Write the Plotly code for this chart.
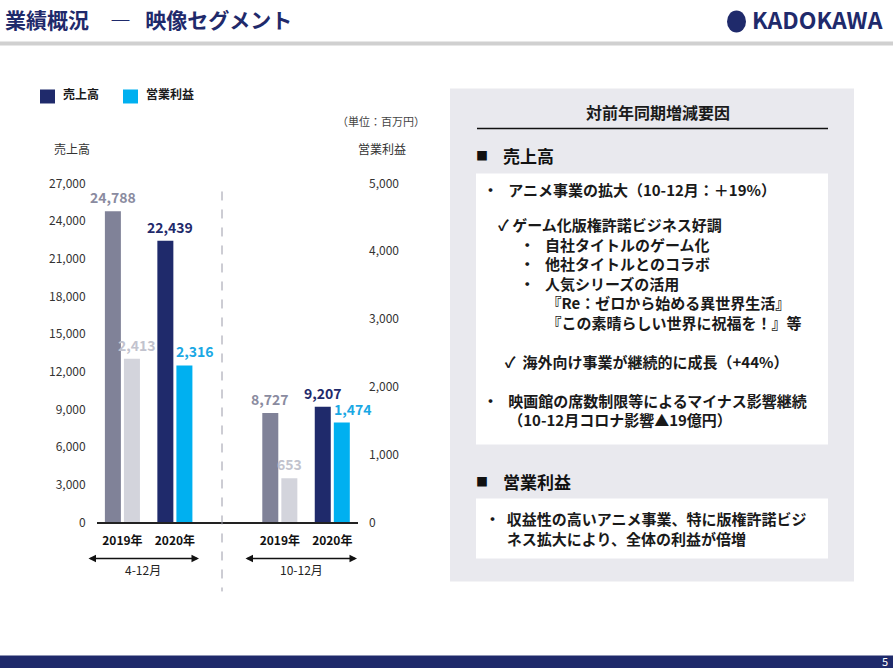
import plotly.graph_objects as go

# ---------------- data ----------------
periods = ["4-12月", "10-12月"]
years = ["2019年", "2020年"]
revenue = [24788, 22439, 8727, 9207]       # 売上高 (百万円)
op_profit = [2413, 2316, 653, 1474]        # 営業利益 (百万円)
rev_ticks = [0, 3000, 6000, 9000, 12000, 15000, 18000, 21000, 24000, 27000]
op_ticks = [0, 1000, 2000, 3000, 4000, 5000]

# ---------------- style ----------------
W = 893
H_FIG = 677
V_OFF = 8.5       # vertical offset of the page in the photograph
V_SCALE = 0.975   # vertical scale of the page in the photograph
T_ADJ = -2.5      # text boxes sit slightly low
FONT = "Noto Sans CJK JP"
NAVY = "#1f2a6b"
GREY = "#808298"
LGREY = "#d3d4dc"
CYAN = "#00b0f0"
TXT = "#1a1a1a"
BAR_W = 0.305
REV_OFF = -0.334
OP_OFF = 0.029
rev_shift = [0, 5, 0, 0]
op_shift = [5, 11, 0, 11]
NB = "\u00a0"
FS = "\u3000"


def px(x):
    return x / W


def py(y):
    return 1 - ((y - V_OFF) / V_SCALE) / H_FIG


xpos = [g * 3 + i for g in range(len(periods)) for i in range(len(years))]
ticktext = ["<b>%s</b>" % years[i] for g in range(len(periods)) for i in range(len(years))]
yr_idx = [i for g in range(len(periods)) for i in range(len(years))]

rev_colors = [GREY if i == 0 else NAVY for i in yr_idx]
op_colors = [LGREY if i == 0 else CYAN for i in yr_idx]
rev_lbl = ["#8a8ba0" if i == 0 else NAVY for i in yr_idx]
op_lbl = ["#c2c3ce" if i == 0 else "#1aa8e4" for i in yr_idx]

fig = go.Figure()
fig.add_trace(go.Bar(
    x=xpos, y=revenue, yaxis="y", width=BAR_W, offset=REV_OFF,
    marker=dict(color=rev_colors, line_width=0),
    hoverinfo="skip", showlegend=False))
fig.add_trace(go.Bar(
    x=xpos, y=op_profit, yaxis="y2", width=BAR_W, offset=OP_OFF,
    marker=dict(color=op_colors, line_width=0),
    hoverinfo="skip", showlegend=False))

shapes = []
annotations = []

# value labels (anchored to the bars through the axes)
for k in range(len(xpos)):
    annotations.append(dict(xref="x", yref="y", x=xpos[k] + REV_OFF + BAR_W / 2,
                            y=revenue[k], text="<b>{:,}</b>".format(revenue[k]),
                            showarrow=False, xanchor="center", yanchor="bottom",
                            xshift=rev_shift[k], yshift=2,
                            font=dict(family=FONT, size=14, color=rev_lbl[k])))
    annotations.append(dict(xref="x", yref="y2", x=xpos[k] + OP_OFF + BAR_W / 2,
                            y=op_profit[k], text="<b>{:,}</b>".format(op_profit[k]),
                            showarrow=False, xanchor="center", yanchor="bottom",
                            xshift=op_shift[k], yshift=2,
                            font=dict(family=FONT, size=14, color=op_lbl[k])))


def rect(x0, y0, x1, y1, color, layer="below"):
    shapes.append(dict(type="rect", xref="paper", yref="paper",
                       x0=px(x0), x1=px(x1), y0=py(y1), y1=py(y0),
                       fillcolor=color, line_width=0, layer=layer))


def line(x0, y0, x1, y1, color, width=1, dash="solid"):
    shapes.append(dict(type="line", xref="paper", yref="paper",
                       x0=px(x0), x1=px(x1), y0=py(y0), y1=py(y1),
                       line=dict(color=color, width=width, dash=dash)))


def text(x, y, s, size=15, color=TXT, bold=True, anchor="left"):
    annotations.append(dict(xref="paper", yref="paper", x=px(x), y=py(y + T_ADJ),
                            text=("<b>%s</b>" % s) if bold else s,
                            showarrow=False, xanchor=anchor, yanchor="middle",
                            align="left",
                            font=dict(family=FONT, size=size, color=color)))


# header
text(3, 20, "業績概況" + FS + "―" + NB * 3 + "映像セグメント", size=21, color=NAVY)
rect(0, 40, W, 44, "#d0d0d0")
shapes.append(dict(type="circle", xref="paper", yref="paper",
                   x0=px(727), x1=px(746), y0=py(31), y1=py(9),
                   fillcolor=NAVY, line_width=0))
text(750, 20, "KADOKAWA", size=23, color=NAVY)

# footer
rect(0, 654, W, 690, NAVY)
text(880, 662, "5", size=11, color="white", bold=False)

# legend
rect(40, 88, 55, 102, NAVY)
text(61, 95, "売上高", size=12)
rect(123, 88, 138, 102, CYAN)
text(144, 95, "営業利益", size=12)

# units / axis titles
text(427, 122, "（単位：百万円）", size=11, color="#444444", bold=False, anchor="right")
text(52, 150, "売上高", size=12, color="#333333", bold=False)
text(356, 150, "営業利益", size=12, color="#333333", bold=False)

# divider
line(222, 190, 222, 590, "#9a9aa8", 1, "dash")

# period arrows and labels
for (xa, xb, lab_x, lab) in [(87, 199, 143, periods[0]), (244, 357, 301, periods[1])]:
    annotations.append(dict(xref="paper", yref="paper", x=px(xb), y=py(557),
                            ax=-(xb - xa), ay=0, axref="pixel", ayref="pixel",
                            text="", showarrow=True, arrowside="end+start",
                            arrowhead=2, arrowsize=1, arrowwidth=1.5, arrowcolor="#111111"))
    text(lab_x, 571, lab, size=12, color="#222222", bold=False, anchor="center")

# right panel
rect(450, 87, 854, 580, "#e9e9ee")
rect(476, 172, 828, 443, "white")
rect(476, 497, 828, 557, "white")
text(658, 113, "対前年同期増減要因", size=16, anchor="center")
line(477, 127, 828, 127, "#111111", 1.5)

text(482, 157, "■", size=12, color="#111111", anchor="center")
text(501, 157, "売上高", size=17, color="#111111")

text(480.5, 191, "・" + NB * 3 + "アニメ事業の拡大（10-12月：＋19%）", size=15)

block = "<br>".join([
    FS + "✓" + NB + "ゲーム化版権許諾ビジネス好調",
    FS * 2 + NB * 2 + "・" + NB * 3 + "自社タイトルのゲーム化",
    FS * 2 + NB * 2 + "・" + NB * 3 + "他社タイトルとのコラボ",
    FS * 2 + NB * 2 + "・" + NB * 3 + "人気シリーズの活用",
    FS * 4 + NB + "『Re：ゼロから始める異世界生活』",
    FS * 4 + NB + "『この素晴らしい世界に祝福を！』等",
    NB,
    FS + NB * 2 + "✓" + NB * 2 + "海外向け事業が継続的に成長（+44%）",
    NB,
    "・" + NB * 3 + "映画館の席数制限等によるマイナス影響継続",
    FS + NB * 3 + "（10-12月コロナ影響▲19億円）",
])
text(481, 323, block, size=15)

text(482, 483, "■", size=12, color="#111111", anchor="center")
text(501, 483, "営業利益", size=17, color="#111111")
text(482.5, 529.5, "・" + NB * 2 + "収益性の高いアニメ事業、特に版権許諾ビジ<br>"
     + FS + NB * 2 + "ネス拡大により、全体の利益が倍増", size=15)

tickfont = dict(family=FONT, size=12, color="#333333")
fig.update_layout(
    width=W, height=H_FIG, autosize=False,
    margin=dict(l=0, r=0, t=0, b=0),
    paper_bgcolor="white", plot_bgcolor="rgba(0,0,0,0)",
    barmode="overlay", showlegend=False,
    font=dict(family=FONT),
    xaxis=dict(domain=[px(96.7), px(358)], range=[-0.49, 4.49],
               tickvals=xpos, ticktext=ticktext, ticks="",
               tickfont=dict(family=FONT, size=12, color="#111111"),
               showline=True, linecolor="#222222", linewidth=1.5,
               showgrid=False, zeroline=False, ticklabelstandoff=6, fixedrange=True),
    yaxis=dict(domain=[py(521), py(182)], range=[0, 27000], tickvals=rev_ticks,
               tickformat=",", showgrid=False, zeroline=False, ticks="",
               tickfont=tickfont, ticklabelstandoff=10, fixedrange=True),
    yaxis2=dict(overlaying="y", side="right", anchor="x", range=[0, 5000],
                tickvals=op_ticks, tickformat=",", showgrid=False, zeroline=False,
                ticks="", tickfont=tickfont, ticklabelstandoff=10, fixedrange=True),
    shapes=shapes, annotations=annotations,
)

fig.write_html("out.html")
